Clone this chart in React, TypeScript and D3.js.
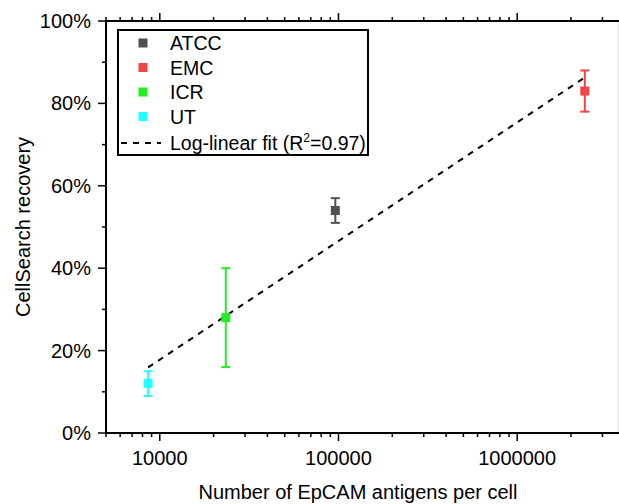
import React from "react";
import * as d3 from "d3";

const categories = ["ATCC", "EMC", "ICR", "UT"];
const colors = ["#505050", "#f04545", "#22ee22", "#22ffff"];
const antigens = [96000, 2390000, 23400, 8600];
const recovery = [54, 83, 28, 12];
const errLow = [51, 78, 16, 9];
const errHigh = [57, 88, 40, 15];
const fitSlope = 28.8;
const fitIntercept = -97.4;
const fitLabel = "Log-linear fit (R";
const xTickValues = [10000, 100000, 1000000];
const yTickValues = [0, 20, 40, 60, 80, 100];
const yMinorValues = [10, 30, 50, 70, 90];

const W = 619;
const H = 504;
const L = 106;
const T = 21;
const B = 433;
const R = 618;
const FONT = "'Liberation Sans', Arial, sans-serif";

export default function App() {
  const decade = 178.7;
  const x = d3
    .scaleLog()
    .domain([5000, Math.pow(10, Math.log10(5000) + (R - L) / decade)])
    .range([L, R]);
  const y = d3.scaleLinear().domain([0, 100]).range([B, T]);

  const minorX: number[] = [];
  for (let e = 3; e <= 7; e++) {
    for (let m = 1; m <= 9; m++) {
      const v = m * Math.pow(10, e);
      if (v >= x.domain()[0] && v <= x.domain()[1]) minorX.push(v);
    }
  }
  const majorSet = new Set(xTickValues);

  const fitXs = [d3.min(antigens)!, d3.max(antigens)!];
  const line = d3
    .line<number>()
    .x((d) => x(d))
    .y((d) => y(fitIntercept + fitSlope * Math.log10(d)));

  const ms = 9;
  const cap = 9;

  return (
    <svg
      width={W}
      height={H}
      style={{ position: "absolute", left: 0, top: 0, background: "#fff" }}
      fontFamily={FONT}
    >
      <line x1={R} x2={R} y1={T} y2={B} stroke="#ddd" strokeWidth={1} />
      <line x1={L} x2={R + 2} y1={B} y2={B} stroke="#000" strokeWidth={2} />
      <line x1={L} x2={R + 2} y1={T} y2={T} stroke="#000" strokeWidth={2} />
      <line x1={L} x2={L} y1={T - 1} y2={B + 1} stroke="#000" strokeWidth={2} />

      {minorX.map((v, i) => {
        const major = majorSet.has(v);
        const len = major ? 8 : 4;
        const px = x(v);
        return (
          <g key={"xt" + i}>
            <line x1={px} x2={px} y1={B} y2={B + len} stroke="#000" strokeWidth={1.5} />
            <line x1={px} x2={px} y1={T} y2={T - len} stroke="#000" strokeWidth={1.5} />
          </g>
        );
      })}
      {xTickValues.map((v) => (
        <text key={"xl" + v} x={x(v)} y={465} textAnchor="middle" fontSize={20} fill="#000">
          {String(v)}
        </text>
      ))}

      {yTickValues.map((v) => (
        <g key={"yt" + v}>
          <line x1={L - 8} x2={L} y1={y(v)} y2={y(v)} stroke="#000" strokeWidth={1.5} />
          <text x={91} y={y(v) + 7} textAnchor="end" fontSize={20} fill="#000">
            {v + "%"}
          </text>
        </g>
      ))}
      {yMinorValues.map((v) => (
        <line key={"ym" + v} x1={L - 4} x2={L} y1={y(v)} y2={y(v)} stroke="#000" strokeWidth={1.5} />
      ))}

      <text x={358} y={499} textAnchor="middle" fontSize={20} fill="#000">
        Number of EpCAM antigens per cell
      </text>
      <text
        transform={`translate(30,${(T + B) / 2}) rotate(-90)`}
        textAnchor="middle"
        fontSize={20}
        fill="#000"
      >
        CellSearch recovery
      </text>

      <path d={line(fitXs) || ""} fill="none" stroke="#000" strokeWidth={2} strokeDasharray="6,6" />

      {categories.map((c, i) => {
        const px = x(antigens[i]);
        return (
          <g key={c}>
            <line x1={px} x2={px} y1={y(errLow[i])} y2={y(errHigh[i])} stroke={colors[i]} strokeWidth={2} />
            <line x1={px - cap / 2} x2={px + cap / 2} y1={y(errLow[i])} y2={y(errLow[i])} stroke={colors[i]} strokeWidth={2} />
            <line x1={px - cap / 2} x2={px + cap / 2} y1={y(errHigh[i])} y2={y(errHigh[i])} stroke={colors[i]} strokeWidth={2} />
            <rect x={px - ms / 2} y={y(recovery[i]) - ms / 2} width={ms} height={ms} fill={colors[i]} />
          </g>
        );
      })}

      <rect x={118} y={30} width={250} height={125} fill="#fff" stroke="#000" strokeWidth={2} />
      {categories.map((c, i) => {
        const cy = 43 + i * 24.5;
        return (
          <g key={"lg" + c}>
            <rect x={143 - 4.5} y={cy - 4.5} width={9} height={9} fill={colors[i]} />
            <text x={170} y={cy + 7} fontSize={19.5} fill="#000">
              {c}
            </text>
          </g>
        );
      })}
      <line x1={121} x2={161} y1={143} y2={143} stroke="#000" strokeWidth={2} strokeDasharray="6,6" />
      <text x={170} y={150} fontSize={19.5} fill="#000">
        {fitLabel}
        <tspan dy={-8} fontSize={12}>
          2
        </tspan>
        <tspan dy={8}>=0.97)</tspan>
      </text>
    </svg>
  );
}
